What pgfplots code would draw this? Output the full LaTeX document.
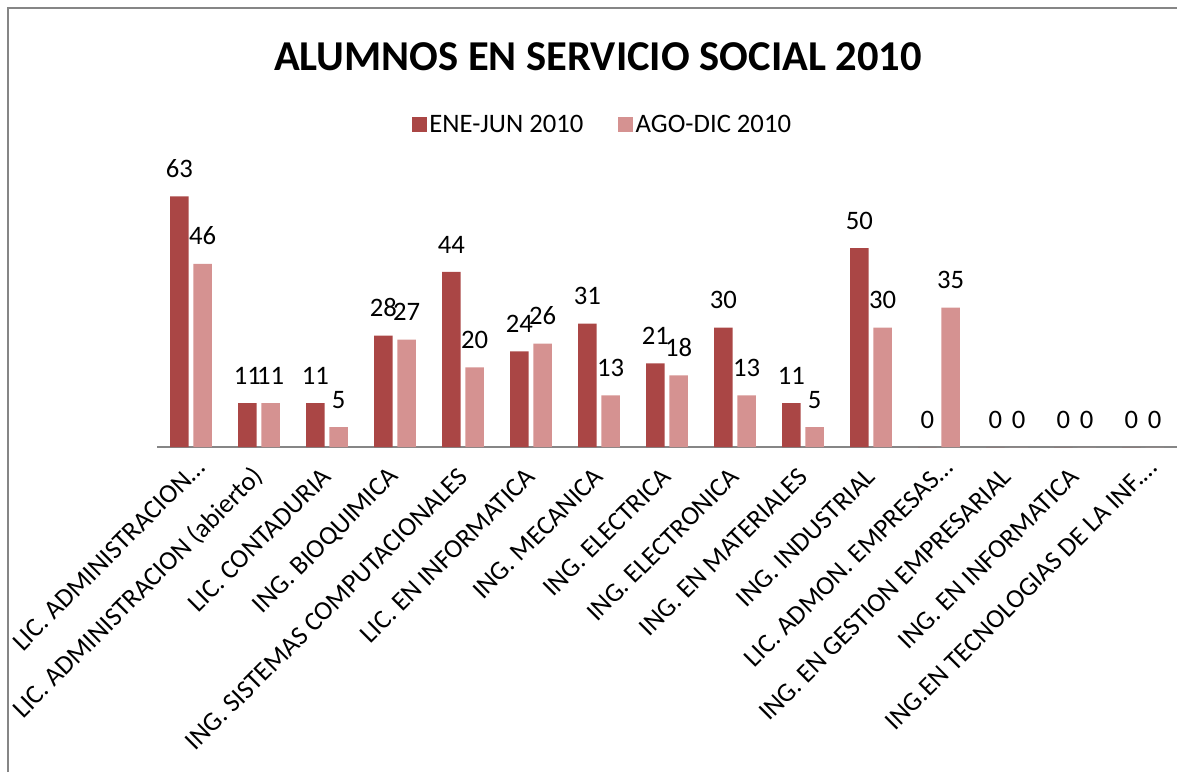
\documentclass[border=0pt]{standalone}
\usepackage{fontspec}
\setmainfont{Carlito}
\usepackage{pgfplots}
\pgfplotsset{compat=1.18}

\definecolor{enejun}{RGB}{170,70,69}
\definecolor{agodic}{RGB}{213,146,145}
\definecolor{framegray}{RGB}{134,134,134}

\newcommand{\lblfont}{\fontsize{20}{23}\selectfont}
\newcommand{\cut}{…\hspace*{-10pt}}

\begin{document}
\begin{tikzpicture}
% 1 px of the reference = 0.75pt
\path[use as bounding box] (0pt,0pt) rectangle (882.75pt,579pt);
\draw[framegray, line width=1.1pt] (6pt,0pt) -- (6pt,573pt) -- (882.75pt,573pt);
\node[font=\bfseries\fontsize{31.9}{36}\selectfont] at (448.5pt,536.25pt) {ALUMNOS EN SERVICIO SOCIAL 2010};

\begin{axis}[
  at={(117.75pt,243.75pt)},
  anchor=south west,
  scale only axis,
  width=765pt, height=208.95pt,
  clip=false,
  ybar=3.4pt,
  bar width=13.9pt,
  xmin=-0.5, xmax=14.5,
  ymin=0, ymax=70,
  axis x line*=bottom,
  axis y line=none,
  x axis line style={draw=framegray, line width=1.1pt},
  major tick length=0pt,
  xtick={0,...,14},
  xticklabels={
    LIC. ADMINISTRACION\cut,
    LIC. ADMINISTRACION (abierto),
    LIC. CONTADURIA,
    ING. BIOQUIMICA,
    ING. SISTEMAS COMPUTACIONALES,
    LIC. EN INFORMATICA,
    ING. MECANICA,
    ING. ELECTRICA,
    ING. ELECTRONICA,
    ING. EN MATERIALES,
    ING. INDUSTRIAL,
    LIC. ADMON. EMPRESAS\cut,
    ING. EN GESTION EMPRESARIAL,
    ING. EN INFORMATICA,
    ING.EN TECNOLOGIAS DE LA INF.\cut},
  xticklabel style={rotate=45, anchor=east, inner sep=0pt, font=\lblfont},
  xticklabel shift=19pt,
  /pgf/number format/assume math mode=true,
  nodes near coords,
  nodes near coords style={font=\lblfont, anchor=south, inner sep=0pt, yshift=13.9pt},
  legend columns=2,
  legend style={at={(0.437,1.156)}, anchor=center, draw=none, fill=none,
    font=\lblfont,
    /tikz/every even column/.append style={column sep=24pt}},
  legend image code/.code={\fill[#1] (0pt,-5.6pt) rectangle (11.25pt,5.6pt);},
]
\addplot[fill=enejun, draw=none] coordinates {
  (0,63) (1,11) (2,11) (3,28) (4,44) (5,24) (6,31) (7,21)
  (8,30) (9,11) (10,50) (11,0) (12,0) (13,0) (14,0)};
\addlegendentry{ENE-JUN 2010}
\addplot[fill=agodic, draw=none] coordinates {
  (0,46) (1,11) (2,5) (3,27) (4,20) (5,26) (6,13) (7,18)
  (8,13) (9,5) (10,30) (11,35) (12,0) (13,0) (14,0)};
\addlegendentry{AGO-DIC 2010}
\end{axis}
\end{tikzpicture}
\end{document}
